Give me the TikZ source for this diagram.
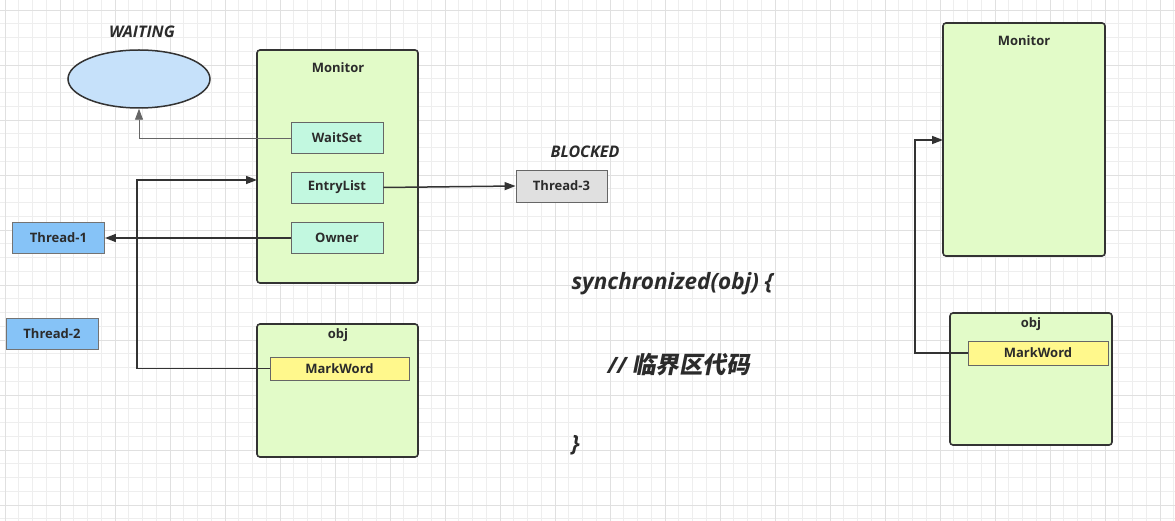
\documentclass[tikz,border=0pt]{standalone}
\usepackage{fontspec}
\setmainfont{Open Sans}
\newfontfamily\cjkbi{Noto Sans CJK SC Bold}[FakeSlant=0.2]
\usetikzlibrary{arrows.meta,shapes.geometric}
\definecolor{gridminor}{HTML}{EEEEEE}
\definecolor{gridmajor}{HTML}{E0E0E0}
\definecolor{boxgreen}{HTML}{E2FBC8}
\definecolor{boxmint}{HTML}{C2F8E0}
\definecolor{boxblue}{HTML}{86C3F7}
\definecolor{boxgrey}{HTML}{E0E0E0}
\definecolor{boxyellow}{HTML}{FFF88C}
\definecolor{ellblue}{HTML}{C6E1FA}
\definecolor{ink}{HTML}{333333}
\definecolor{txt}{HTML}{2B2B2B}
\tikzset{
  lbl/.style={font=\bfseries\fontsize{13}{15}\selectfont, text=txt},
  bigbox/.style={draw=ink, line width=1.6pt, fill=boxgreen, rounded corners=3pt},
  smallbox/.style={draw=black!60, line width=0.9pt, lbl, inner sep=0pt, minimum width=92pt, minimum height=31pt},
  field/.style={smallbox, fill=boxmint},
  thread/.style={smallbox, fill=boxblue, draw=black!55},
  state/.style={font=\bfseries\itshape\fontsize{16}{18}\selectfont, text=txt},
  arr/.style={draw=ink, line width=1.5pt, -{Triangle[length=11pt,width=8pt]}},
  thinarr/.style={draw=black!60, line width=0.9pt, -{Triangle[length=11pt,width=8pt]}},
  code/.style={font=\bfseries\itshape\fontsize{22.5}{26}\selectfont, text=txt, anchor=west}
}
\begin{document}
\begin{tikzpicture}[x=1pt,y=-1pt]
\useasboundingbox (0,0) rectangle (1175,521);
\fill[white] (0,0) rectangle (1175,521);
% grid
\foreach \i in {0,...,85} {
  \pgfmathsetmacro\gx{5+13.75*\i}
  \draw[gridminor, line width=0.8pt] (\gx,0) -- (\gx,521);
}
\foreach \i in {-1,...,38} {
  \pgfmathsetmacro\gy{10+13.75*\i}
  \draw[gridminor, line width=0.8pt] (0,\gy) -- (1175,\gy);
}
\foreach \i in {0,...,21} {
  \pgfmathsetmacro\gx{5+55*\i}
  \draw[gridmajor, line width=0.9pt] (\gx,0) -- (\gx,521);
}
\foreach \i in {0,...,9} {
  \pgfmathsetmacro\gy{10+55*\i}
  \draw[gridmajor, line width=0.9pt] (0,\gy) -- (1175,\gy);
}

% left part
\node[state] (waiting) at (142,32) {WAITING};
\node[draw=ink, line width=1.5pt, fill=ellblue, ellipse, minimum width=142pt, minimum height=58pt, inner sep=0pt] (ell) at (139,79) {};

\node[bigbox, minimum width=161pt, minimum height=233pt, inner sep=0pt] (mon) at (337.5,166.5) {};
\node[lbl] (montitle) at (338,68) {Monitor};
\node[field] (waitset) at (337,138) {WaitSet};
\node[field] (entry) at (337,187.5) {EntryList};
\node[field] (owner) at (337,238) {Owner};

\node[state] (blocked) at (585,152) {BLOCKED};
\node[smallbox, fill=boxgrey, minimum width=91pt, minimum height=32pt] (t3) at (561.5,186) {Thread-3};

\node[thread] (t1) at (58.5,238) {Thread-1};
\node[thread] (t2) at (52,334) {Thread-2};

\node[bigbox, minimum width=161pt, minimum height=133pt, inner sep=0pt] (obj) at (337.5,390.5) {};
\node[lbl] (objtitle) at (338,335) {obj};
\node[smallbox, fill=boxyellow, minimum width=139pt, minimum height=23pt] (mw) at (339.5,368.5) {MarkWord};

\draw[thinarr] (waitset.west) -| (ell.south);
\draw[arr] (entry.east) -- (t3.west);
\draw[arr] (owner.west) -- (t1.east);
\coordinate (c1) at (137,180);
\coordinate (m1in) at (257,180);
\draw[arr] (mw.west) -| (c1) -- (m1in);

% code
\node[code] (l1) at (568,284) {synchronized(obj) \{};
\node[code] (l2) at (604,365) {// {\cjkbi\fontsize{23.5}{26}\selectfont 临界区代码}};
\node[code] (l3) at (568,445) {\}};

% right part
\node[bigbox, minimum width=162pt, minimum height=233pt, inner sep=0pt] (mon2) at (1024,139.5) {};
\node[lbl] (mon2title) at (1024,41) {Monitor};
\node[bigbox, minimum width=162pt, minimum height=132pt, inner sep=0pt] (obj2) at (1031,379) {};
\node[lbl] (obj2title) at (1031,324) {obj};
\node[smallbox, fill=boxyellow, minimum width=140pt, minimum height=24pt] (mw2) at (1038,353) {MarkWord};
\coordinate (c2) at (915,140);
\coordinate (m2in) at (943,140);
\draw[arr] (mw2.west) -| (c2) -- (m2in);
\end{tikzpicture}
\end{document}
